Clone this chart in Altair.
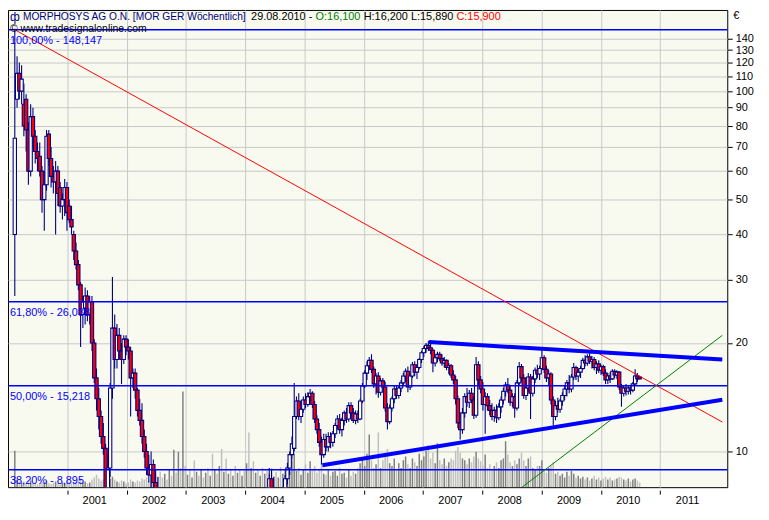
import altair as alt
import numpy as np
import pandas as pd

FONT = "Liberation Sans"
NAVY = "#000080"

# ---- two-week candles (first one 2000-02-11, last one 2010-08-27) ----
START = "2000-02-11"
STEP = "14D"
GAP_2002_2004 = 47   # price below the visible range
GAP_2004 = 4

open_a = [40, 95, 112, 100, 92, 95, 78, 60, 85, 75,
          68, 66, 60, 50, 55, 76, 65, 58, 56, 60,
          54, 48, 50, 54, 48, 44, 40, 36, 33, 29,
          24, 25, 27, 24, 26, 20, 16, 14, 12.5, 11,
          10.2, 7.2, 9, 15, 22, 18, 21, 19, 18, 20.5,
          19.5, 19, 16, 16.5, 14.8, 13, 12.2, 11, 10, 9,
          8.6, 9.2, 8.2, 7.5, 7.2]
high_a = [148, 125, 120, 118, 105, 98, 82, 92, 90, 78,
          72, 72, 62, 60, 78, 78, 70, 62, 64, 62,
          56, 52, 57, 56, 50, 48, 41, 38, 34, 29.5,
          27, 28.5, 28, 27, 27, 20.5, 17, 15, 13, 12,
          10.5, 9.8, 15.5, 30.5, 24, 22.6, 22, 20, 21, 21,
          20.5, 19.5, 17, 17, 15, 14, 13.6, 11.5, 10.5, 9.8,
          10, 9.5, 8.9, 8.5, 7.6]
low_a = [27, 90, 95, 92, 75, 68, 55, 58, 70, 63,
         60, 58, 46, 41, 53, 62, 54, 52, 40, 48,
         46, 44, 45, 41, 43, 40, 34, 32, 28, 19.5,
         22, 22.5, 23, 22.5, 19, 15.5, 13, 11.5, 10.5, 9.8,
         6.5, 6.0, 8.5, 14, 17, 17, 18, 15.4, 17.5, 18.5,
         18, 12.5, 15, 14, 12.5, 11.8, 10.5, 9.6, 8.6, 8.2,
         7.5, 7.8, 7, 6.8, 6]
close_a = [74, 112, 100, 108, 80, 78, 60, 85, 75, 68,
           65, 60, 50, 55, 75, 65, 58, 56, 60, 52,
           48, 50, 54, 46, 44, 42, 36, 33, 29, 24,
           26, 27, 24, 26, 20, 16, 14, 12.5, 11, 10.2,
           7.2, 9.0, 15, 22, 18, 21, 19, 18, 20.5, 19.5,
           19, 16, 16.5, 14.8, 13, 12.2, 11, 10, 9, 8.6,
           9.2, 8.2, 7.5, 7.2, 6.5]

open_b = [7.6, 8.4, 7.6]
high_b = [9.0, 8.9, 8.5]
low_b = [7.2, 7.4, 7.0]
close_b = [8.4, 7.6, 7.3]

open_c = [7.2, 8.4, 9, 9.8, 10.2, 12.5, 13.8, 12.5, 13.1, 13.9,
          13.5, 14.2, 14.5, 13.5, 12.3, 11.5, 10.6, 9.8, 10.8, 10.3,
          11, 10.6, 11.2, 11.8, 12.3, 11.5, 12.2, 12.8, 12.3, 13.4,
          12.8, 12.2, 12.7, 12.3, 13.8, 15.2, 16.5, 17.3, 17.9, 16.9,
          15.4, 16.2, 14.6, 15.7, 15.1, 13.2, 12.1, 13.2, 14, 14.9,
          14.3, 15, 15.5, 16.2, 16.7, 15.1, 16.2, 17.4, 16.6, 17.1,
          18, 18.8, 19.3, 19.7, 19.4, 19.1, 17.6, 18.2, 18.6, 18.1,
          17.6, 17.9, 17.1, 17.3, 16.3, 15.8, 14, 12, 11.5, 12.8,
          14.2, 13.7, 14.5, 13.9, 12.6, 17.4, 15.8, 14.9, 13.5, 14.2,
          13.4, 13, 12.5, 13, 12.4, 13.3, 13.9, 14.7, 15.3, 14.8,
          13.7, 14.2, 13.2, 15.5, 17.2, 16, 14.3, 15, 16.1, 14.5,
          15.9, 16.8, 16.4, 17, 18.2, 16.9, 16, 16.4, 13.9, 12.5,
          13.4, 13.1, 13.8, 14.3, 14.9, 15.5, 14.9, 16.1, 17.1, 16.2,
          16.6, 17, 17.9, 17.6, 18.3, 17.8, 18, 17.1, 17.5, 16.8,
          17.2, 16.5, 15.8, 16.2, 15.9, 16.7, 16.3, 16.6, 15.1, 14.5,
          15, 14.7, 15, 14.8, 15.4, 16.2, 16.1]
high_c = [8.6, 9.3, 10, 11, 15.5, 14.2, 14.5, 13.3, 14.2, 14.5,
          14.6, 14.9, 14.7, 13.8, 12.6, 12, 11, 11.2, 11.2, 11.3,
          11.3, 11.4, 12, 12.6, 12.7, 12.4, 13, 13.2, 13.7, 13.7,
          13.2, 13, 13, 14, 15.5, 16.8, 17.8, 18.3, 18.6, 17.2,
          16.5, 16.6, 16, 16, 15.6, 13.6, 13.5, 14.2, 15.2, 15.3,
          15.2, 15.8, 16.5, 17, 17.2, 16.5, 17.7, 17.8, 17.4, 18.2,
          19, 19.6, 20, 20.3, 20, 19.3, 18.5, 18.9, 18.9, 18.6,
          18.3, 18, 17.6, 17.5, 16.8, 16.2, 14.3, 12.8, 13.2, 14.5,
          15, 14.8, 15, 14.2, 18.3, 17.8, 16.2, 15.6, 14.6, 14.5,
          13.9, 13.6, 13.3, 13.5, 13.6, 14.2, 15, 15.6, 16, 15.2,
          14.5, 14.5, 15.8, 17.7, 17.5, 16.4, 15.3, 16.5, 16.4, 16.2,
          17.1, 17.4, 17.3, 19.4, 18.5, 17.3, 16.8, 16.6, 14.2, 13.8,
          14.1, 14, 14.6, 15.2, 15.8, 16.3, 16.4, 17.6, 17.3, 17,
          17.3, 18.2, 18.5, 18.6, 18.8, 18.4, 18.3, 17.8, 17.9, 17.4,
          17.4, 16.9, 16.5, 16.6, 16.9, 16.9, 16.8, 16.7, 15.4, 15.3,
          15.4, 15.2, 15.3, 15.6, 16.9, 16.5, 16.2]
low_c = [7, 8.1, 8.6, 9.5, 10, 12.3, 12.2, 12, 12.8, 13.2,
         13.3, 13.8, 13.2, 12, 11.2, 10.3, 9.2, 9.6, 10, 10,
         10.2, 10.3, 10.9, 11.5, 11.2, 11, 11.8, 12, 12.1, 12.5,
         12, 11.9, 12, 12.2, 13.6, 15, 15.8, 16.8, 16.5, 15,
         14.4, 14.1, 14.3, 14.6, 12.9, 11.5, 11.9, 12.9, 13.6, 14,
         14, 14.6, 15.2, 15.6, 14.6, 14.8, 16, 16.2, 15.9, 16.9,
         17.6, 18.3, 18.8, 19, 18.6, 16.6, 17.2, 17.7, 17.8, 17.3,
         17.1, 16.8, 16.4, 16, 15.4, 13.5, 11.6, 10.8, 11.2, 12.4,
         13.3, 13.2, 13.6, 12.3, 12.4, 15.3, 14.5, 13, 11.2, 13,
         12.6, 12.2, 12.1, 12, 12.2, 12.8, 13.5, 14.2, 14.5, 13.4,
         13.3, 12.4, 13, 15.2, 15.6, 14, 13.9, 14.6, 12.3, 14.2,
         15.5, 16, 15.8, 16.8, 16.5, 15.6, 15.3, 13.5, 11.8, 12.2,
         12.8, 12.8, 13.4, 13.9, 14.2, 14.5, 14.6, 15.8, 15.8, 15.6,
         16, 16.8, 17.2, 17.3, 17.5, 17, 16.8, 16.4, 16.5, 16.3,
         16.2, 15.4, 15.4, 15.5, 15.8, 16, 15.9, 14.8, 13.3, 14.2,
         14.3, 14.4, 14.4, 14.6, 15.2, 15.6, 15.89]
close_c = [8.4, 9.0, 9.8, 10.5, 12.5, 13.8, 12.5, 13.1, 13.9, 13.5,
           14.2, 14.5, 13.5, 12.3, 11.5, 10.6, 9.8, 10.8, 10.3, 11,
           10.6, 11.2, 11.8, 12.3, 11.5, 12.2, 12.8, 12.3, 13.4, 12.8,
           12.2, 12.7, 12.3, 13.8, 15.2, 16.5, 17.3, 17.9, 16.9, 15.4,
           16.2, 14.6, 15.7, 15.1, 13.2, 12.1, 13.2, 14, 14.9, 14.3,
           15, 15.5, 16.2, 16.7, 15.1, 16.2, 17.4, 16.6, 17.1, 18,
           18.8, 19.3, 19.7, 19.4, 19.1, 17.6, 18.2, 18.6, 18.1, 17.6,
           17.9, 17.1, 17.3, 16.3, 15.8, 14, 12, 11.5, 12.8, 14.2,
           13.7, 14.5, 13.9, 12.6, 17.4, 15.8, 14.9, 13.5, 14.2, 13.4,
           13, 12.5, 13, 12.4, 13.3, 13.9, 14.7, 15.3, 14.8, 13.7,
           14.2, 13.2, 15.5, 17.2, 16, 14.3, 15, 16.1, 14.5, 15.9,
           16.8, 16.4, 17, 18.2, 16.9, 16, 16.4, 13.9, 12.5, 13.4,
           13.1, 13.8, 14.3, 14.9, 15.5, 14.9, 16.1, 17.1, 16.2, 16.6,
           17, 17.9, 17.6, 18.3, 17.8, 18, 17.1, 17.5, 16.8, 17.2,
           16.5, 15.8, 16.2, 15.9, 16.7, 16.3, 16.6, 15.1, 14.5, 15,
           14.7, 15, 14.8, 15.4, 16.2, 15.9, 15.9]

opens = open_a + [None] * GAP_2002_2004 + open_b + [None] * GAP_2004 + open_c
highs = high_a + [None] * GAP_2002_2004 + high_b + [None] * GAP_2004 + high_c
lows = low_a + [None] * GAP_2002_2004 + low_b + [None] * GAP_2004 + low_c
closes = close_a + [None] * GAP_2002_2004 + close_b + [None] * GAP_2004 + close_c

# volume (relative units)
volumes = [38, 8, 6, 5, 6, 4, 5, 7, 4, 5, 3, 4, 6, 5, 7, 4, 3, 5, 6, 4, 3, 5, 4, 6,
           5, 4, 6, 5, 7, 9, 5, 6, 4, 5, 8, 10, 13, 9, 7, 8, 12, 10, 9, 11, 8, 6, 5, 7, 6, 4,
           5, 8, 6, 5, 7, 6, 9, 8, 10, 7, 12, 9, 14, 11, 16,
           10, 14, 8, 18, 12, 39, 15, 37, 20, 100, 22, 13, 18, 10, 28, 16, 12, 18, 10, 15,
           20, 12, 35, 18, 14, 22, 40, 16, 30, 14, 18, 12, 22, 15, 19, 12, 17, 25, 57, 20,
           27, 15, 18, 12, 20, 14, 17,
           14, 20, 12, 16, 10, 21, 14, 18, 22, 16, 28, 35, 17, 20, 13, 18, 24, 15, 27, 18,
           22, 15, 19, 25, 14, 13, 18, 12, 16, 17, 12, 20, 14, 15, 10, 18, 12, 16, 14, 20,
           25, 30, 22, 35, 55, 28, 20, 24, 57,
           20, 28, 33, 40, 25, 22, 30, 18, 25, 20, 28, 32, 24, 20, 30, 26, 22, 35, 28, 32,
           38, 44, 30, 36, 25, 46, 28, 24, 30, 22, 26, 30, 28, 38, 42, 36, 30, 28, 24, 30,
           26, 32, 37, 30, 27, 22, 34, 20, 24, 18, 22, 26, 20, 28, 30, 48, 34, 26, 22, 28,
           24, 30, 36, 28, 22, 30, 32, 20, 18, 22,
           22, 28, 18, 15, 20, 22, 26, 14, 16, 12, 14, 10, 16, 12, 17, 14, 10, 12, 9, 11,
           8, 10, 7, 9, 12, 8, 10, 7, 9, 11, 8, 10, 7, 8, 9, 11, 10, 8, 7, 9, 6, 8, 9, 7, 5]

# Fibonacci levels
fib_values = [148.147, 26.038, 15.218, 8.895]
fib_labels = ["100,00% - 148,147", "61,80% - 26,038", "50,00% - 15,218", "38,20% - 8,895"]

# trend lines (decimal year, price)
red_t = [2000.11, 2012.046]
red_p = [148.147, 12.07]
green_t = [2008.668, 2012.046]
green_p = [7.96, 21.0]
thick_names = ["upper", "upper", "lower", "lower"]
thick_t = [2007.099, 2012.046, 2005.30, 2012.046]
thick_p = [20.12, 17.99, 9.16, 13.91]

year_ticks = list(range(2001, 2012))
price_ticks = [10, 20, 30, 40, 50, 60, 70, 80, 90, 100, 110, 120, 130, 140]

# ---- frames ----
dates = pd.date_range(START, periods=len(opens), freq=STEP)
days = np.where(dates.is_leap_year, 366.0, 365.0)
t = dates.year + (dates.dayofyear - 1) / days

df = pd.DataFrame({"t": t, "o": opens, "h": highs, "l": lows, "c": closes, "v": volumes})
known = df["o"].notna()
up = np.where(known, df["c"] >= df["o"], np.arange(len(df)) % 2 == 0)
df["shade"] = np.where(up, "dark", "light")
candles = df[known].copy()

fib_df = pd.DataFrame({"p": fib_values, "label": fib_labels})
red_df = pd.DataFrame({"t": red_t, "p": red_p})
green_df = pd.DataFrame({"t": green_t, "p": green_p})
thick_df = pd.DataFrame({"line": thick_names, "t": thick_t, "p": thick_p})
one = pd.DataFrame({"a": [0]})

W, H = 725, 481
xscale = alt.Scale(domain=[2000.081, 2012.046], nice=False, zero=False)
yscale = alt.Scale(type="log", domain=[7.96, 168], nice=False)
xaxis = alt.Axis(values=year_ticks, format="d", labelOffset=27, tickSize=4, offset=3,
                 domain=False, grid=True, gridColor="#C8C8C8", title=None,
                 labelPadding=0, labelFlush=False, labelOverlap=False)
yaxis = alt.Axis(orient="right", values=price_ticks, format="d", tickSize=5, labelPadding=3,
                 domain=False, grid=True, gridColor="#C8C8C8", title=None,
                 labelFlush=False, labelOverlap=False)

X = alt.X("t:Q", scale=xscale, axis=xaxis)

volume = alt.Chart(df).mark_rule(strokeWidth=1.5, clip=True).encode(
    x=X,
    y=alt.Y("v:Q", scale=alt.Scale(domain=[0, 498.5], nice=False), axis=None),
    y2=alt.datum(0),
    color=alt.Color("shade:N", scale=alt.Scale(domain=["dark", "light"], range=["#808080", "#C0C0C0"]), legend=None),
)

wicks = alt.Chart(candles).mark_rule(color=NAVY, strokeWidth=1.1, clip=True).encode(
    x=X, y=alt.Y("l:Q", scale=yscale, axis=yaxis), y2="h:Q")
bodies = alt.Chart(candles).mark_bar(size=3.3, stroke=NAVY, strokeWidth=1.1, clip=True).encode(
    x=X, y=alt.Y("o:Q", scale=yscale, axis=yaxis), y2="c:Q",
    fill=alt.condition("datum.c >= datum.o", alt.value("#FFFFFF"), alt.value("#FF0000")))

fib_rules = alt.Chart(fib_df).mark_rule(color="#0000FF", strokeWidth=1.5, clip=True).encode(
    y=alt.Y("p:Q", scale=yscale, axis=yaxis))
fib_text = alt.Chart(fib_df).mark_text(align="left", baseline="top", dy=5, color="#0000FF",
                                       font=FONT, fontSize=11).encode(
    x=alt.value(2), y=alt.Y("p:Q", scale=yscale, axis=yaxis), text="label:N")

red_line = alt.Chart(red_df).mark_line(strokeWidth=1, color="#FF0000", clip=True).encode(
    x=X, y=alt.Y("p:Q", scale=yscale, axis=yaxis))
green_line = alt.Chart(green_df).mark_line(strokeWidth=1, color="#008000", clip=True).encode(
    x=X, y=alt.Y("p:Q", scale=yscale, axis=yaxis))
thick = alt.Chart(thick_df).mark_line(strokeWidth=4, color="#0000FF", clip=True).encode(
    x=X, y=alt.Y("p:Q", scale=yscale, axis=yaxis), detail="line:N")


def label(txt, x, y, color="black", size=11, base="middle"):
    return alt.Chart(one).mark_text(text=txt, align="left", baseline=base, font=FONT,
                                    fontSize=size, color=color).encode(
        x=alt.value(x), y=alt.value(y))


TY = 7.5
texts = [
    label("ф", 2, TY, NAVY, 12),
    label("MORPHOSYS AG O.N. [MOR GER  Wöchentlich]", 15, TY, NAVY, 10.3),
    label("29.08.2010 -", 245, TY),
    label("O:16,100", 310, TY, "#008000"),
    label("H:16,200 L:15,890", 358.5, TY),
    label("C:15,900", 452, TY, "#FF0000"),
    label("© www.tradesignalonline.com", 2, 19.5, "black", 10.5),
    label("€", W + 6, 0, "black", 11, "top"),
]

price = alt.layer(wicks, bodies, fib_rules, red_line, green_line, thick, fib_text, *texts)

chart = alt.layer(volume, price).resolve_scale(y="independent").properties(
    width=W, height=H,
    autosize=alt.AutoSizeParams(type="none"),
    padding={"left": 0, "top": 0, "right": 34, "bottom": 18},
    background="white",
).configure_view(
    stroke="black", strokeWidth=1, fill="#F8FAF0"
).configure_axis(
    labelFont=FONT, labelFontSize=11, labelColor="black", tickColor="black", gridWidth=1
)

chart.save("out.html", embed_options={"renderer": "svg", "actions": False})
